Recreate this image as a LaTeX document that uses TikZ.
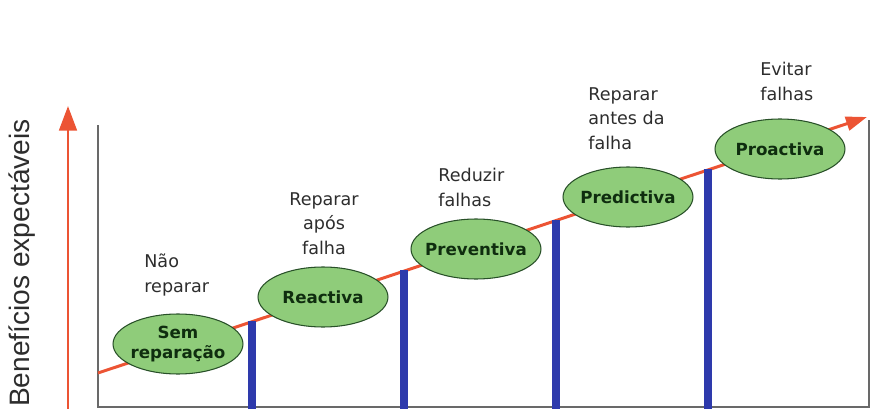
\documentclass[tikz,border=0pt]{standalone}
\usepackage{fontspec}
\setmainfont{DejaVu Sans}
\newfontfamily\axisfont{Liberation Sans}
\usetikzlibrary{arrows.meta,shapes.geometric,positioning}
\definecolor{leafgreen}{RGB}{143,204,122}
\definecolor{leafline}{RGB}{40,80,40}
\definecolor{leaftext}{RGB}{15,45,15}
\definecolor{risered}{RGB}{236,84,52}
\definecolor{barblue}{RGB}{46,58,172}
\definecolor{framegray}{RGB}{105,105,105}
\definecolor{aimgray}{RGB}{45,45,45}

\begin{document}
\begin{tikzpicture}[x=0.02cm,y=-0.02cm,
    stage/.style={ellipse,draw=leafline,line width=0.6pt,fill=leafgreen,minimum width=2.6cm,minimum height=1.2cm,inner xsep=-1mm,inner ysep=0pt,align=center,text=leaftext,font=\bfseries\fontsize{9.5}{11.5}\selectfont},
    aim/.style={inner sep=0pt,text=aimgray,font=\fontsize{10}{13.7}\selectfont},
    bar/.style={barblue,line width=4pt},
    rise/.style={risered,line width=1.7pt},
    frame/.style={framegray,line width=1.1pt}]
            \useasboundingbox (0,0) rectangle (870,409);
            \coordinate (tl) at (98,125);
            \coordinate (bl) at (98,407);
            \coordinate (br) at (869,407);
            \coordinate (tr) at (869,120);
            \draw[frame] (tl)--(bl)--(br)--(tr);
            \coordinate (yfoot) at (68,409);
            \coordinate (ytip) at (68,106);
            \draw[rise,-{Triangle[length=14pt,width=10pt]}] (yfoot)--(ytip);
            \node[rotate=90,text=aimgray,font=\axisfont\fontsize{16}{18}\selectfont] (ylabel) at (22,263) {Benefícios expectáveis};
            \coordinate (trend0) at (98,373);
            \coordinate (trend1) at (867,117);
            \draw[rise,-{Triangle[length=12pt,width=8pt]}] (trend0)--(trend1);
            \foreach \bx/\by [count=\i] in {252/321,404/270,556/220,708/169}{
            \coordinate (bar\i foot) at (\bx,409);
            \coordinate (bar\i top) at (\bx,\by);
            \draw[bar] (bar\i foot)--(bar\i top);
            }
            \foreach \nm/\cx/\cy/\txt in {sem/178/344/{Sem\\reparação},reactiva/323/297/Reactiva,preventiva/476/249/Preventiva,predictiva/628/197/Predictiva,proactiva/780/149/Proactiva}{
            \node[stage] (\nm) at (\cx,\cy) {\txt};
            }
            % base anchor sits on the last line
            \node[aim,align=left,anchor=base west] (naoreparar) at (144,292) {Não\\reparar};
            \node[aim,align=center,anchor=base] (apos) at (324,254) {Reparar\\após\\falha};
            \node[aim,align=left,anchor=base west] (reduzir) at (438,206) {Reduzir\\falhas};
            \node[aim,align=left,anchor=base west] (antes) at (588,149) {Reparar\\antes da\\falha};
            \node[aim,align=left,anchor=base west] (evitar) at (760,100) {Evitar\\falhas};
        \end{tikzpicture}
\end{document}
